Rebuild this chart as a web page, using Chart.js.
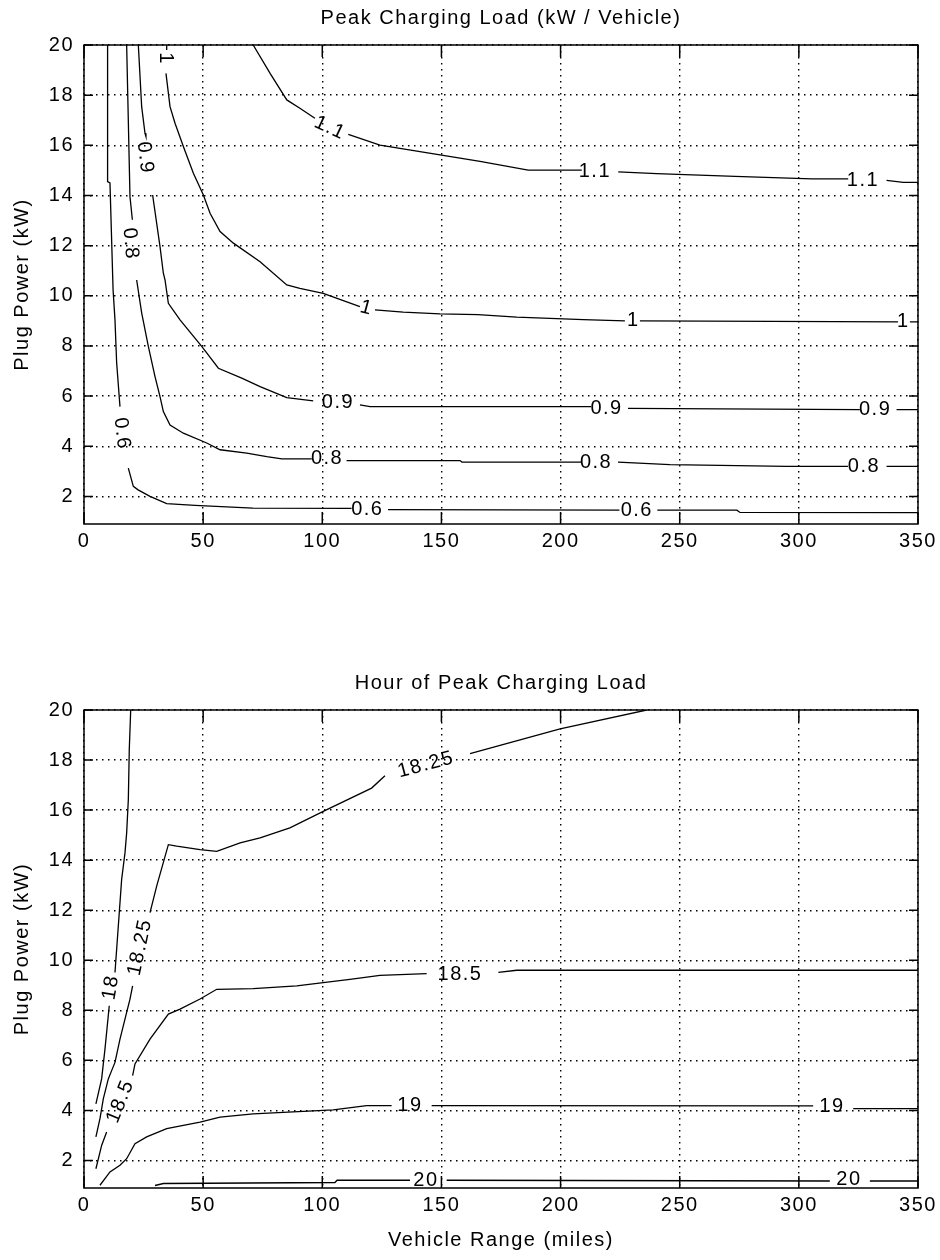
<!DOCTYPE html>
<html>
<head>
<meta charset="utf-8">
<script src="https://cdn.jsdelivr.net/npm/chart.js@4.4.1/dist/chart.umd.min.js"></script>
<style>
  body { margin: 0; background: #fff; }
  #wrap { position: relative; width: 940px; height: 1260px; }
  canvas { position: absolute; left: 0; }
</style>
</head>
<body>
<div id="wrap">
  <canvas id="load-chart" width="940" height="600" style="top:0"></canvas>
  <canvas id="hour-chart" width="940" height="630" style="top:630px"></canvas>
</div>
<script>
// axis ticks (vehicle range in miles, plug power in kW)
const xTicks = [0, 50, 100, 150, 200, 250, 300, 350];
const yTicks = [2, 4, 6, 8, 10, 12, 14, 16, 18, 20];

// Peak charging load contours, [miles, kW], null = break for a label
const load06 = [[9.9,20],[9.9,14.55],[10.9,14.5],[12.2,10.24],[13.0,9.04],[13.7,7.33],[15.1,5.58], null,
  [18.6,3.13],[20.7,2.4],[22.7,2.26],[27.7,2.0],[34.7,1.71],[46.6,1.64],[70.9,1.53],[112.3,1.52], null,
  [127.6,1.47],[224.7,1.45], null,
  [240.6,1.45],[274,1.45],[275.3,1.36],[350,1.35]];
const load08 = [[17.9,20],[19.3,13.95],[20.3,13.03], null,
  [22.1,10.63],[24.2,9.32],[27.0,7.98],[29.8,6.78],[31.9,5.98],[33.3,5.38],[36.1,4.85],[41.7,4.52],[51.5,4.13],[57.1,3.86],[68.3,3.73],[76.7,3.59],[83.0,3.5],[95.6,3.5], null,
  [110.2,3.43],[157.8,3.43],[158.6,3.37],[208.6,3.37], null,
  [224.1,3.37],[245.9,3.27],[294.9,3.2],[320.6,3.2], null,
  [336.8,3.2],[350,3.2]];
const load09 = [[22.8,20],[24.2,17.54],[25.6,16.48],[26.0,16.35], null,
  [28.8,14.02],[31.9,11.96],[33.3,10.9],[34.0,10.63],[35.4,9.7],[40.3,9.04],[49.4,7.98],[56.4,7.11],[66.2,6.72],[73.9,6.38],[85.1,5.94],[96.2,5.81], null,
  [115.8,5.65],[120.0,5.58],[212.8,5.58], null,
  [228.3,5.51],[325.6,5.46], null,
  [341,5.46],[350,5.46]];
const load10 = [[34.7,20],[34.7,19.8], null,
  [34.4,18.87],[36.1,17.54],[38.2,16.88],[41.7,15.95],[45.9,14.89],[50.1,14.02],[52.9,13.29],[57.1,12.56],[62.7,12.1],[73.9,11.36],[85.1,10.43],[90.6,10.3],[100.4,10.1],[115.8,9.57], null,
  [122.1,9.44],[134,9.35],[149.4,9.28],[165.3,9.25],[181.6,9.15],[209.5,9.05],[227,9.0], null,
  [233.3,9.0],[288.6,8.98],[341.6,8.96], null,
  [346.6,8.96],[350,8.96]];
const load11 = [[71.0,20],[78.1,18.87],[85.1,17.81],[90.6,17.48],[96.9,17.08], null,
  [110.9,16.44],[124.2,16.01],[149.4,15.62],[166.2,15.36],[186.4,15.01],[208.9,15.01], null,
  [224.2,14.94],[240.3,14.87],[273.2,14.76],[305.4,14.66],[320.7,14.66], null,
  [336.8,14.6],[343.8,14.52],[350,14.52]];
// contour labels: [text, miles, kW, angle in degrees]
const loadLabels = [
  ['0.6', 15.9, 4.5, 83], ['0.6', 118.9, 1.47, 0], ['0.6', 232, 1.45, 0],
  ['0.8', 19.5, 12.07, 85], ['0.8', 102, 3.5, 0], ['0.8', 214.9, 3.37, 0], ['0.8', 327.3, 3.2, 0],
  ['0.9', 25.6, 15.5, 84], ['0.9', 106.6, 5.74, 0], ['0.9', 219.3, 5.51, 0], ['0.9', 332, 5.46, 0],
  ['1', 34.4, 19.46, 90], ['1', 118.6, 9.51, 15], ['1', 230.5, 9.0, 0], ['1', 343.8, 8.96, 0],
  ['1.1', 103.2, 16.69, 25], ['1.1', 214.4, 14.94, 0], ['1.1', 326.9, 14.6, 0]
];

// Hour of peak charging load contours
const hour18 = [[19.6,20],[19.0,18.41],[18.6,16.41],[17.9,15.09],[17.2,14.29],[15.8,13.23],[14.8,11.9],[13.7,10.44],[13.0,9.51], null,
  [10.6,8.18],[8.8,6.45],[7.4,5.26],[5.0,4.26]];
const hour1825 = [[5.0,2.94],[6.7,3.67],[8.1,4.46],[10.2,5.26],[11.6,5.59],[13.0,5.92],[15.1,6.85],[17.9,7.92],[19.3,8.45],[20.4,8.98], null,
  [27.7,11.9],[30.5,12.96],[35.4,14.62],[38.9,14.56],[48.7,14.42],[55.7,14.35],[65.5,14.69],[73.9,14.89],[86.4,15.29],[100.4,15.95],[120.7,16.88],[126.3,17.37], null,
  [162,18.26],[199.8,19.25],[236.1,20]];
const hour185 = [[5.0,1.67],[7.4,2.6],[9.5,3.14], null,
  [20.4,5.39],[21.4,5.86],[27.7,6.85],[35.4,7.85],[40.3,8.05],[48.7,8.45],[55.7,8.84],[71.0,8.87],[89.3,8.98],[100.4,9.11],[111.6,9.24],[124.2,9.4],[143.8,9.47], null,
  [173.9,9.52],[181.6,9.6],[350,9.6]];
const hour19 = [[6.7,1.01],[10.9,1.54],[15.1,1.81],[17.9,2.07],[21.4,2.67],[26.3,2.94],[34.7,3.27],[48.7,3.53],[57.1,3.73],[71.0,3.86],[92.0,3.96],[104.6,4.02],[118.6,4.19],[129.1,4.19], null,
  [145.9,4.19],[306,4.18], null,
  [322.8,4.07],[350,4.07]];
const hour20 = [[29.8,1.0],[33.3,1.08],[105.3,1.12],[106.2,1.21],[136.8,1.21], null,
  [152.2,1.21],[313,1.18], null,
  [329.8,1.18],[350,1.18]];
const hourLabels = [
  ['18', 11.3, 8.92, -80],
  ['18.25', 23.5, 10.52, -78], ['18.25', 143.5, 17.81, -15],
  ['18.5', 15.3, 4.36, -68], ['18.5', 157.8, 9.44, 0],
  ['19', 136.8, 4.19, 0], ['19', 313.9, 4.15, 0],
  ['20', 143.5, 1.21, 0], ['20', 321, 1.25, 0]
];

const FONT = '"Liberation Sans", Arial, sans-serif';
Chart.defaults.font.family = FONT;
Chart.defaults.color = '#000';

// turn a contour array into line points, nulls become gaps
const toPoints = (line) => {
  let lastX = 0;
  return line.map(p => {
    if (p === null) return {x: lastX, y: null};
    lastX = p[0];
    return {x: p[0], y: p[1]};
  });
};

// contour labels and the MATLAB style box with inward ticks
const contourPlugin = {
  id: 'contour',
  beforeDraw(chart) {
    chart.ctx.letterSpacing = '1.5px';
  },
  afterDatasetsDraw(chart, args, opts) {
    const {ctx, chartArea: a, scales: {x, y}} = chart;
    ctx.save();
    ctx.fillStyle = '#000';
    ctx.font = '20px ' + FONT;
    ctx.textAlign = 'center';
    ctx.textBaseline = 'middle';
    for (const [text, lx, ly, ang] of opts.labels) {
      ctx.save();
      ctx.translate(x.getPixelForValue(lx), y.getPixelForValue(ly));
      ctx.rotate(ang * Math.PI / 180);
      ctx.fillText(text, 0, 0);
      ctx.restore();
    }
    ctx.restore();

    ctx.save();
    ctx.strokeStyle = '#000';
    ctx.lineWidth = 1.5;
    ctx.strokeRect(a.left, a.top, a.right - a.left, a.bottom - a.top);
    ctx.beginPath();
    x.ticks.forEach(t => {
      const px = x.getPixelForValue(t.value);
      ctx.moveTo(px, a.bottom); ctx.lineTo(px, a.bottom - 12);
      ctx.moveTo(px, a.top); ctx.lineTo(px, a.top + 12);
    });
    y.ticks.forEach(t => {
      const py = y.getPixelForValue(t.value);
      ctx.moveTo(a.left, py); ctx.lineTo(a.left + 9, py);
      ctx.moveTo(a.right, py); ctx.lineTo(a.right - 9, py);
    });
    ctx.stroke();
    ctx.restore();
  }
};

function makeChart(id, title, lines, labels, box) {
  new Chart(document.getElementById(id), {
    type: 'line',
    data: {
      datasets: lines.map(l => ({
        data: toPoints(l),
        borderColor: '#000',
        borderWidth: 1.3,
        pointRadius: 0,
        tension: 0,
        spanGaps: false
      }))
    },
    options: {
      responsive: false,
      animation: false,
      devicePixelRatio: 1,
      layout: { padding: { top: 4, right: 22, left: 0, bottom: 0 } },
      plugins: {
        legend: { display: false },
        tooltip: { enabled: false },
        title: {
          display: true,
          text: title,
          fullSize: false,
          color: '#000',
          font: { size: 20, weight: 'normal', lineHeight: 1.2 },
          padding: { top: box.titleTop, bottom: 15 }
        },
        contour: { labels: labels }
      },
      scales: {
        x: {
          type: 'linear',
          min: 0,
          max: 350,
          afterBuildTicks: s => { s.ticks = xTicks.map(v => ({value: v})); },
          afterFit: s => { s.height = box.xHeight; },
          grid: { color: '#000', lineWidth: 1.4, drawTicks: false },
          border: { display: false, dash: [1.5, 4.5] },
          ticks: { padding: 5, maxRotation: 0, autoSkip: false, font: { size: 20 } },
          title: {
            display: box.xTitle,
            text: 'Vehicle Range (miles)',
            font: { size: 20, lineHeight: 1.2 },
            padding: { top: 0, bottom: 8 }
          }
        },
        y: {
          type: 'linear',
          min: 0.9,
          max: 20,
          afterBuildTicks: s => { s.ticks = yTicks.map(v => ({value: v})); },
          afterFit: s => { s.width = 84; },
          grid: { color: '#000', lineWidth: 1.4, drawTicks: false },
          border: { display: false, dash: [1.5, 4.5] },
          ticks: { padding: 10, autoSkip: false, font: { size: 20 } },
          title: {
            display: true,
            text: 'Plug Power (kW)',
            font: { size: 20, lineHeight: 1.2 },
            padding: { top: 10, bottom: 0 }
          }
        }
      }
    },
    plugins: [contourPlugin]
  });
}

makeChart('load-chart', 'Peak Charging Load (kW / Vehicle)',
  [load06, load08, load09, load10, load11], loadLabels,
  { titleTop: 2, xHeight: 76, xTitle: false });

makeChart('hour-chart', 'Hour of Peak Charging Load',
  [hour18, hour1825, hour185, hour19, hour20], hourLabels,
  { titleTop: 37, xHeight: 72, xTitle: true });
</script>
</body>
</html>
